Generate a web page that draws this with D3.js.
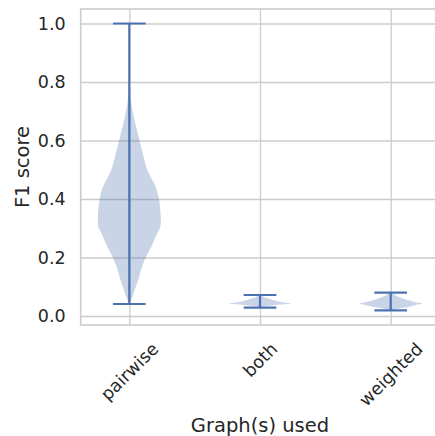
<!DOCTYPE html>
<html>
<head>
<meta charset="utf-8">
<script src="https://cdn.jsdelivr.net/npm/d3@7"></script>
<style>
  html, body { margin: 0; padding: 0; background: #ffffff; }
  svg { display: block; font-family: "DejaVu Sans", sans-serif; }
</style>
</head>
<body>
<svg id="chart" width="435" height="436"></svg>
<script>
// Groups along the x axis
const categories = ["pairwise", "both", "weighted"];

// Extremes of each group (drawn as caps and the connecting bar)
const minValues = [0.041, 0.0284, 0.0195];
const maxValues = [1.0, 0.0718, 0.0797];

// Kernel density profiles: F1 value and density relative to the group's peak
const pairwiseGrid    = [0.041, 0.055, 0.089, 0.123, 0.169, 0.203, 0.237, 0.283, 0.305, 0.339, 0.397, 0.442, 0.488, 0.510, 0.556, 0.602, 0.625, 0.681, 0.738, 0.790, 0.850, 1.000];
const pairwiseDensity = [0.00, 0.06, 0.17, 0.28, 0.41, 0.54, 0.70, 0.89, 0.99, 1.00, 0.95, 0.84, 0.62, 0.54, 0.43, 0.32, 0.27, 0.14, 0.05, 0.012, 0.003, 0.00];

const bothGrid    = [0.0284, 0.031, 0.035, 0.038, 0.043, 0.047, 0.052, 0.058, 0.064, 0.0718];
const bothDensity = [0.00, 0.05, 0.25, 0.50, 1.00, 0.70, 0.50, 0.33, 0.15, 0.02];

const weightedGrid    = [0.0195, 0.023, 0.027, 0.031, 0.036, 0.040, 0.043, 0.047, 0.052, 0.057, 0.062, 0.068, 0.074, 0.0797];
const weightedDensity = [0.02, 0.15, 0.35, 0.55, 0.75, 0.90, 1.00, 0.80, 0.62, 0.45, 0.33, 0.20, 0.10, 0.02];

// Axis ticks
const yTicks = [0.0, 0.2, 0.4, 0.6, 0.8, 1.0];
const xTicks = [1, 2, 3];

const profiles = [
  pairwiseGrid.map((v, i) => ({ v, d: pairwiseDensity[i] })),
  bothGrid.map((v, i) => ({ v, d: bothDensity[i] })),
  weightedGrid.map((v, i) => ({ v, d: weightedDensity[i] }))
];

const blue = "#4c72b0";
const gridColor = "#cccccc";
const textColor = "#262626";
const tickFont = 17.5;

const svg = d3.select("#chart");
const plot = { left: 80.7, right: 439.3, top: 9, bottom: 325 };

const x = d3.scaleLinear().domain([0.628, 3.372]).range([plot.left, plot.right]);
const y = d3.scaleLinear().domain([-0.0308, 1.0496]).range([plot.bottom, plot.top]);

const halfWidth = 0.24;   // violin half-width in category units
const capHalf = 0.125;    // cap half-length in category units

// Y axis with horizontal gridlines
const yAxis = svg.append("g")
  .attr("transform", `translate(${plot.left},0)`)
  .call(d3.axisLeft(y).tickValues(yTicks).tickFormat(d3.format(".1f"))
    .tickSize(-(plot.right - plot.left)).tickPadding(15));
yAxis.select(".domain").remove();
yAxis.selectAll("line").attr("stroke", gridColor).attr("stroke-width", 1.3);
yAxis.selectAll("text")
  .attr("fill", textColor).attr("font-size", tickFont)
  .attr("font-family", "DejaVu Sans");

// X axis with vertical gridlines
const xAxis = svg.append("g")
  .attr("transform", `translate(0,${plot.bottom})`)
  .call(d3.axisBottom(x).tickValues(xTicks).tickFormat(d => categories[d - 1])
    .tickSize(-(plot.bottom - plot.top)).tickPadding(0));
xAxis.select(".domain").remove();
xAxis.selectAll("line").attr("stroke", gridColor).attr("stroke-width", 1.3);
xAxis.selectAll("text")
  .attr("fill", textColor).attr("font-size", tickFont)
  .attr("font-family", "DejaVu Sans")
  .attr("text-anchor", "middle")
  .attr("y", 0).attr("dy", "0.32em")
  .each(function (d) {
    const bb = this.getBBox();
    const rotH = (bb.width + bb.height) * Math.SQRT1_2;
    const cy = 14 + rotH / 2;
    d3.select(this).attr("transform", `translate(0,${cy}) rotate(-45)`);
  });

// Axes frame
svg.append("rect")
  .attr("x", plot.left).attr("y", plot.top)
  .attr("width", plot.right - plot.left).attr("height", plot.bottom - plot.top)
  .attr("fill", "none").attr("stroke", gridColor).attr("stroke-width", 1.6);

// Violin bodies
const g = svg.append("g");
profiles.forEach((prof, i) => {
  const pos = i + 1;
  const area = d3.area()
    .y(p => y(p.v))
    .x0(p => x(pos - halfWidth * p.d))
    .x1(p => x(pos + halfWidth * p.d))
    .curve(d3.curveCatmullRom.alpha(0.5));
  g.append("path")
    .datum(prof)
    .attr("d", area)
    .attr("fill", blue).attr("fill-opacity", 0.3);
});

// Extremes bars and caps
categories.forEach((c, i) => {
  const pos = i + 1;
  g.append("line")
    .attr("x1", x(pos)).attr("x2", x(pos))
    .attr("y1", y(minValues[i])).attr("y2", y(maxValues[i]))
    .attr("stroke", blue).attr("stroke-width", 2.2);
  [minValues[i], maxValues[i]].forEach(v => {
    g.append("line")
      .attr("x1", x(pos - capHalf)).attr("x2", x(pos + capHalf))
      .attr("y1", y(v)).attr("y2", y(v))
      .attr("stroke", blue).attr("stroke-width", 2.2);
  });
});

// Axis titles
svg.append("text")
  .attr("x", (plot.left + plot.right) / 2).attr("y", 431.5)
  .attr("text-anchor", "middle")
  .attr("font-size", 19.5).attr("fill", textColor)
  .text("Graph(s) used");

svg.append("text")
  .attr("transform", `translate(28.5,${(plot.top + plot.bottom) / 2}) rotate(-90)`)
  .attr("text-anchor", "middle")
  .attr("font-size", 19.5).attr("fill", textColor)
  .text("F1 score");
</script>
</body>
</html>
